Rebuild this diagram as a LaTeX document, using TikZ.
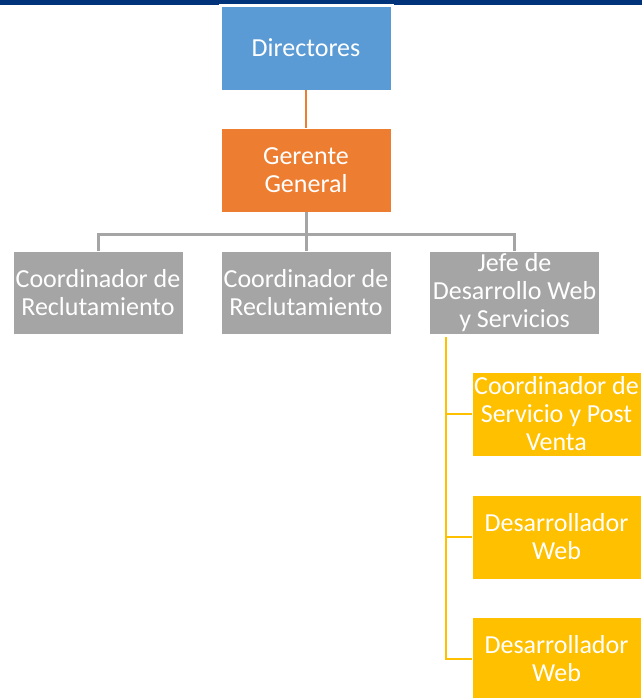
\documentclass[tikz,border=0pt]{standalone}
\usepackage{fontspec}
\setmainfont{Carlito}
\definecolor{navy}{RGB}{0,51,122}
\definecolor{boxblue}{RGB}{91,155,213}
\definecolor{boxorange}{RGB}{237,125,49}
\definecolor{boxgray}{RGB}{165,165,165}
\definecolor{boxgold}{RGB}{255,192,0}
\tikzset{
  orgbox/.style={minimum width=170pt, minimum height=84pt, inner sep=1pt,
    align=center, text=white, font=\fontsize{26}{28}\selectfont,
    draw=white, line width=0.4pt},
  bluebox/.style={orgbox, fill=boxblue},
  orangebox/.style={orgbox, fill=boxorange},
  graybox/.style={orgbox, fill=boxgray, minimum height=83pt},
  goldbox/.style={orgbox, fill=boxgold, minimum width=169pt},
  orangeline/.style={draw=boxorange, line width=1.6pt},
  grayline/.style={draw=boxgray, line width=3pt},
  goldline/.style={draw=boxgold, line width=2.6pt}
}
\begin{document}
\begin{tikzpicture}[x=1pt, y=-1pt]
  \useasboundingbox (0,0) rectangle (642,698);
  % top banner
  \fill[navy] (0,0) rectangle (642,5.5);
  \fill[white] (219,4) rectangle (394,6.5);

  % boxes
  \node[bluebox]   (dir) at (306,48)    {Directores};
  \node[orangebox] (ger) at (306,170)   {Gerente\\General};
  \node[graybox]   (c1)  at (98,292.5)  {Coordinador de\\Reclutamiento};
  \node[graybox]   (c2)  at (306,292.5) {Coordinador de\\Reclutamiento};
  \node[graybox]   (jefe) at (514.5,292.5) {Jefe de\\Desarrollo Web\\y Servicios};
  \node[goldbox]   (s1)  at (556.5,414) {Coordinador de\\Servicio y Post\\Venta};
  \node[goldbox]   (s2)  at (556.5,537) {Desarrollador\\Web};
  \node[goldbox]   (s3)  at (556.5,659) {Desarrollador\\Web};

  % connectors
  \draw[orangeline] (dir.south) -- (ger.north);
  \coordinate (bus) at (306,234);
  \draw[grayline] (ger.south) -- (c2.north);
  \draw[grayline] (c1.north) -- (c1.north |- bus) -- (jefe.north |- bus) -- (jefe.north);
  \coordinate (ytop) at (446,337);
  \draw[goldline] (ytop) |- (s3.west);
  \draw[goldline] (ytop |- s1.west) -- (s1.west);
  \draw[goldline] (ytop |- s2.west) -- (s2.west);
\end{tikzpicture}
\end{document}
